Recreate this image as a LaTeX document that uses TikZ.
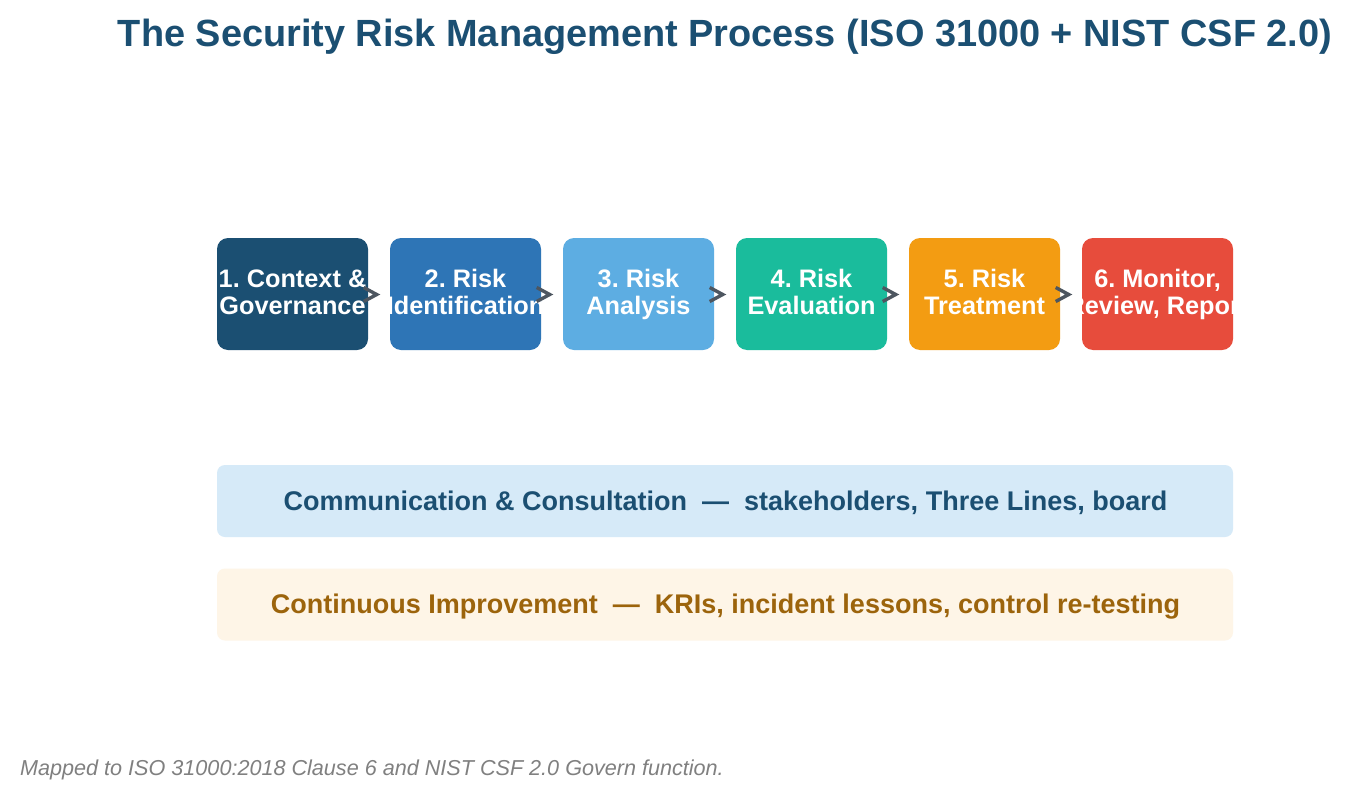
\documentclass[tikz,border=0pt]{standalone}
\usepackage{fontspec}
\setmainfont{Liberation Sans}
\usetikzlibrary{calc}
\definecolor{titleblue}{HTML}{1B4F72}
\definecolor{cA}{HTML}{1B4F72}
\definecolor{cB}{HTML}{2E75B6}
\definecolor{cC}{HTML}{5DADE2}
\definecolor{cD}{HTML}{1ABC9C}
\definecolor{cE}{HTML}{F39C12}
\definecolor{cF}{HTML}{E74C3C}
\definecolor{commfill}{HTML}{D6EAF8}
\definecolor{contfill}{HTML}{FEF5E7}
\definecolor{conttext}{HTML}{9C640C}
\definecolor{chevgray}{HTML}{4D5660}
\definecolor{footgray}{HTML}{808080}
\tikzset{
  stepbox/.style={rounded corners=11pt, minimum width=151pt, minimum height=112pt, inner sep=0pt, draw=none},
  steptext/.style={text=white, font=\bfseries\fontsize{25.3}{28}\selectfont, inner sep=0pt, anchor=base},
  chevline/.style={draw=chevgray, line width=3.4pt, line join=miter, line cap=butt},
  bar/.style={rounded corners=8pt, minimum width=1016pt, minimum height=72pt, inner sep=0pt},
  bartext/.style={font=\bfseries\fontsize{27}{30}\selectfont, inner sep=0pt, anchor=base}
}
\begin{document}
\frenchspacing
\begin{tikzpicture}[x=1pt,y=-1pt]
\useasboundingbox[fill=white] (0,0) rectangle (1351,800);
% title
\node[anchor=base, text=titleblue, font=\bfseries\fontsize{37.9}{40}\selectfont, inner sep=0pt] (title) at (725,47) {The Security Risk Management Process (ISO 31000 + NIST CSF 2.0)};
% step boxes
\foreach \i/\x/\c in {1/292.5/cA,2/465.5/cB,3/638.5/cC,4/811.5/cD,5/984.5/cE,6/1157.5/cF}{
  \node[stepbox, fill=\c] (b\i) at (\x,294) {};
}
\foreach \i/\ta/\tb in {1/{1. Context \&}/{Governance},2/{2. Risk}/{Identification},3/{3. Risk}/{Analysis},4/{4. Risk}/{Evaluation},5/{5. Risk}/{Treatment},6/{6. Monitor,}/{Review, Report}}{
  \begin{scope}
    \clip[rounded corners=11pt] (b\i.south west) rectangle (b\i.north east);
    \node[steptext] (t\i a) at ($(b\i.center)+(0,-7)$) {\ta};
    \node[steptext] (t\i b) at ($(b\i.center)+(0,20)$) {\tb};
  \end{scope}
}
% chevrons between steps
\foreach \a/\b in {1/2,2/3,3/4,4/5,5/6}{
  \draw[chevline] ($(b\a.east)+(-4.5,-6.5)$) -- ($(b\a.east)+(8.5,0.5)$) -- ($(b\a.east)+(-4.5,7.5)$);
}
% bars
\node[bar, fill=commfill] (comm) at (725,501) {};
\node[bartext, text=titleblue] (commt) at (725.5,510) {Communication \& Consultation \ — \ stakeholders, Three Lines, board};
\node[bar, fill=contfill] (cont) at (725,604.5) {};
\node[bartext, text=conttext] (contt) at (725.5,613) {Continuous Improvement \ — \ KRIs, incident lessons, control re-testing};
% footer
\node[anchor=base west, text=footgray, font=\itshape\fontsize{21.6}{24}\selectfont, inner sep=0pt] (foot) at (20,775) {Mapped to ISO 31000:2018 Clause 6 and NIST CSF 2.0 Govern function.};
\end{tikzpicture}
\end{document}
